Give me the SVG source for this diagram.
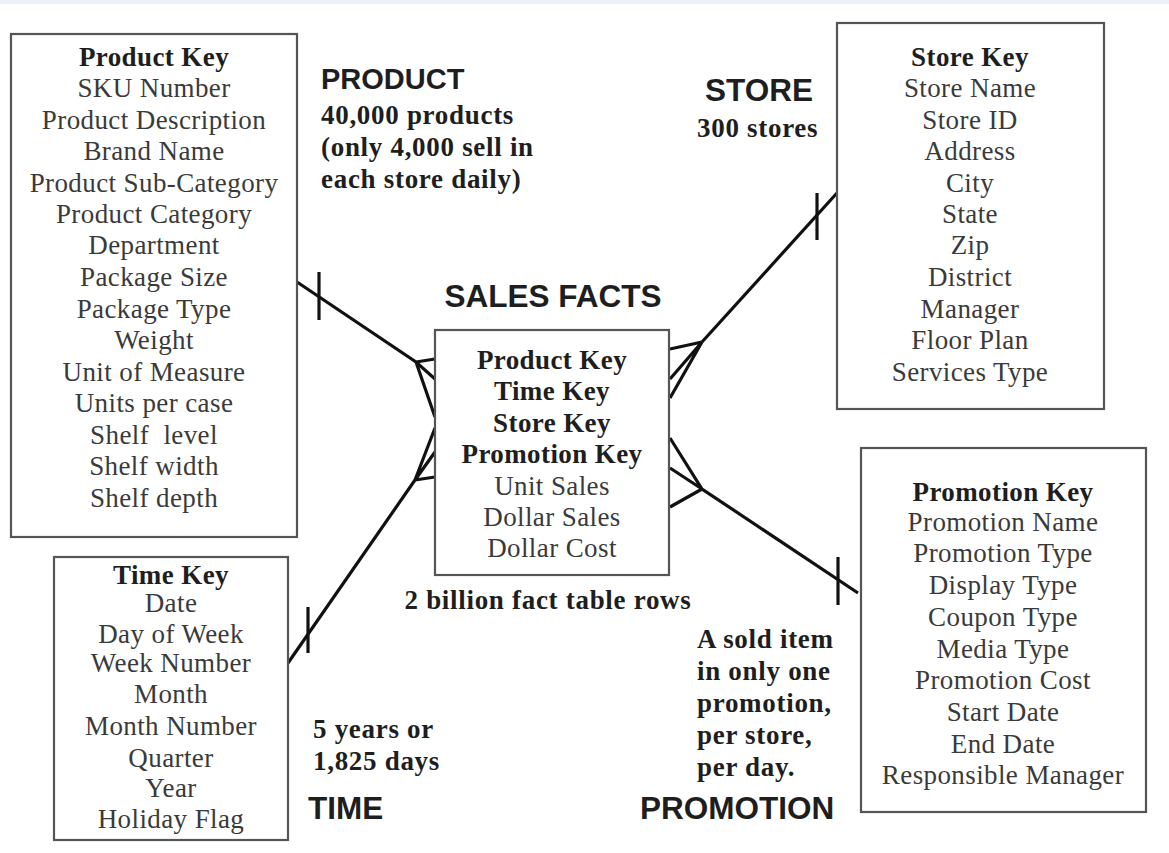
<svg xmlns="http://www.w3.org/2000/svg" width="1169" height="853" viewBox="0 0 1169 853">
<style>
.box{fill:#fff;stroke:#555;stroke-width:2.2}
.t{font-family:"Liberation Serif","Times New Roman",serif;font-size:27px;letter-spacing:0.4px;fill:#3a3a3a;text-anchor:middle}
.k{font-weight:bold;fill:#1e1e1e}
.n{font-family:"Liberation Serif","Times New Roman",serif;font-size:27px;letter-spacing:0.7px;font-weight:bold;fill:#1e1e1e}
.h{font-family:"Liberation Sans",Arial,sans-serif;font-size:31.5px;font-weight:bold;fill:#1e1e1e}
.c{fill:none;stroke:#111;stroke-width:3.2;stroke-linecap:butt;stroke-linejoin:miter}
</style>
<rect width="1169" height="853" fill="#fff"/>
<rect x="0" y="0" width="1169" height="4" fill="#edf1f6"/>

<g id="connectors">
  <!-- product -->
  <path class="c" d="M297,282 L416,362 L435,379 M416,362 L435,359 M416,362 L435,417"/>
  <path class="c" d="M319,272 L319,320"/>
  <!-- time -->
  <path class="c" d="M288,663 L415,480 L435,452 M415,480 L435,477 M415,480 L435,428"/>
  <path class="c" d="M308,607 L308,653"/>
  <!-- store -->
  <path class="c" d="M837,193 L702,342 L670,379 M702,342 L670,349 M702,342 L670,398"/>
  <path class="c" d="M817,193 L817,240"/>
  <!-- promotion -->
  <path class="c" d="M858,593 L702,489 L670,438 M702,489 L670,468 M702,489 L670,507"/>
  <path class="c" d="M838,557 L838,605"/>
</g>

<g id="product">
  <rect class="box" x="11" y="34" width="286" height="503"/>
  <text class="t k" x="154" y="66">Product Key</text>
  <text class="t" x="154" y="97">SKU Number</text>
  <text class="t" x="154" y="129">Product Description</text>
  <text class="t" x="154" y="160">Brand Name</text>
  <text class="t" x="154" y="192">Product Sub-Category</text>
  <text class="t" x="154" y="223">Product Category</text>
  <text class="t" x="154" y="254">Department</text>
  <text class="t" x="154" y="286">Package Size</text>
  <text class="t" x="154" y="318">Package Type</text>
  <text class="t" x="154" y="349">Weight</text>
  <text class="t" x="154" y="381">Unit of Measure</text>
  <text class="t" x="154" y="412">Units per case</text>
  <text class="t" x="154" y="444" xml:space="preserve">Shelf  level</text>
  <text class="t" x="154" y="475">Shelf width</text>
  <text class="t" x="154" y="507">Shelf depth</text>
</g>

<g id="product-label">
  <text class="h" x="321" y="89" style="font-size:29px">PRODUCT</text>
  <text class="n" x="321" y="124">40,000 products</text>
  <text class="n" x="321" y="156">(only 4,000 sell in</text>
  <text class="n" x="321" y="188">each store daily)</text>
</g>

<g id="store">
  <rect class="box" x="837" y="23" width="267" height="386"/>
  <text class="t k" x="970" y="66">Store Key</text>
  <text class="t" x="970" y="97">Store Name</text>
  <text class="t" x="970" y="129">Store ID</text>
  <text class="t" x="970" y="160">Address</text>
  <text class="t" x="970" y="192">City</text>
  <text class="t" x="970" y="223">State</text>
  <text class="t" x="970" y="254">Zip</text>
  <text class="t" x="970" y="286">District</text>
  <text class="t" x="970" y="318">Manager</text>
  <text class="t" x="970" y="349">Floor Plan</text>
  <text class="t" x="970" y="381">Services Type</text>
</g>

<g id="store-label">
  <text class="h" x="705" y="101">STORE</text>
  <text class="n" x="697" y="137">300 stores</text>
</g>

<g id="sales-facts">
  <text class="h" x="553" y="307" text-anchor="middle">SALES FACTS</text>
  <rect class="box" x="435" y="330" width="234" height="245"/>
  <text class="t k" x="552" y="369">Product Key</text>
  <text class="t k" x="552" y="400">Time Key</text>
  <text class="t k" x="552" y="432">Store Key</text>
  <text class="t k" x="552" y="463">Promotion Key</text>
  <text class="t" x="552" y="495">Unit Sales</text>
  <text class="t" x="552" y="526">Dollar Sales</text>
  <text class="t" x="552" y="557">Dollar Cost</text>
  <text class="n" x="548" y="609" text-anchor="middle">2 billion fact table rows</text>
</g>

<g id="time">
  <rect class="box" x="54" y="557" width="234" height="283"/>
  <text class="t k" x="171" y="584">Time Key</text>
  <text class="t" x="171" y="612">Date</text>
  <text class="t" x="171" y="643">Day of Week</text>
  <text class="t" x="171" y="672">Week Number</text>
  <text class="t" x="171" y="703">Month</text>
  <text class="t" x="171" y="735">Month Number</text>
  <text class="t" x="171" y="767">Quarter</text>
  <text class="t" x="171" y="797">Year</text>
  <text class="t" x="171" y="828">Holiday Flag</text>
</g>

<g id="time-label">
  <text class="n" x="313" y="738">5 years or</text>
  <text class="n" x="313" y="770">1,825 days</text>
  <text class="h" x="308" y="819">TIME</text>
</g>

<g id="promotion">
  <rect class="box" x="861" y="448" width="285" height="364"/>
  <text class="t k" x="1003" y="501">Promotion Key</text>
  <text class="t" x="1003" y="531">Promotion Name</text>
  <text class="t" x="1003" y="562">Promotion Type</text>
  <text class="t" x="1003" y="594">Display Type</text>
  <text class="t" x="1003" y="626">Coupon Type</text>
  <text class="t" x="1003" y="658">Media Type</text>
  <text class="t" x="1003" y="689">Promotion Cost</text>
  <text class="t" x="1003" y="721">Start Date</text>
  <text class="t" x="1003" y="753">End Date</text>
  <text class="t" x="1003" y="784">Responsible Manager</text>
</g>

<g id="promotion-label">
  <text class="n" x="697" y="648">A sold item</text>
  <text class="n" x="697" y="680">in only one</text>
  <text class="n" x="697" y="712">promotion,</text>
  <text class="n" x="697" y="744">per store,</text>
  <text class="n" x="697" y="776">per day.</text>
  <text class="h" x="640" y="819">PROMOTION</text>
</g>
</svg>
